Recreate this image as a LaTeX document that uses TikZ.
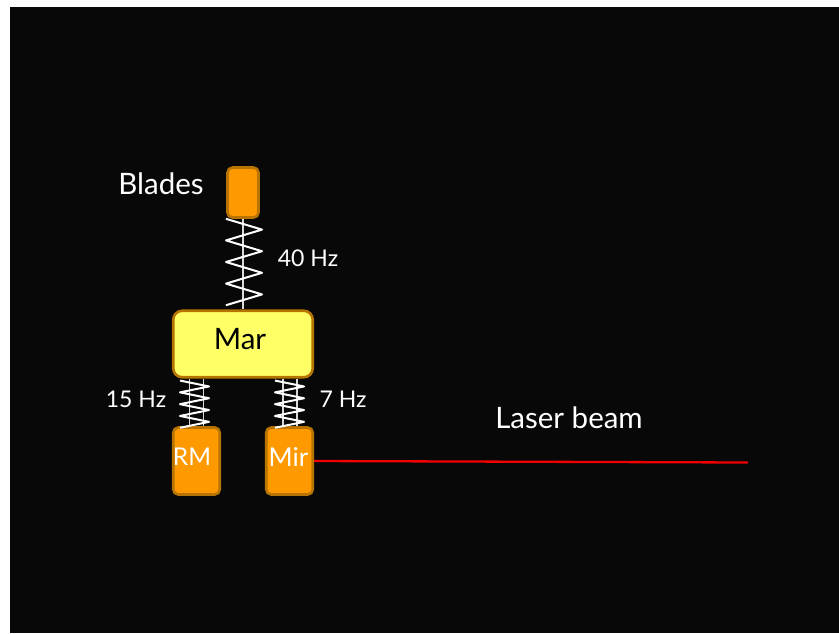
\documentclass[tikz,border=0pt]{standalone}
\usepackage{xcolor}
\usepackage{fontspec}
\setmainfont{Lato}
\usetikzlibrary{calc}
\definecolor{Backdrop}{HTML}{080808}
\definecolor{MassFill}{HTML}{FF9900}
\definecolor{MassEdge}{HTML}{B87400}
\definecolor{MarFill}{HTML}{FFFF66}
\definecolor{BeamRed}{HTML}{F00000}
\begin{document}
\begin{tikzpicture}[x=1pt,y=-1pt,
    mass/.style={rectangle,rounded corners=5pt,draw=MassEdge,fill=MassFill,
      line width=2.6pt,inner sep=0pt},
    wire/.style={color=white!85!black,line width=1.1pt},
    coil/.style={color=white,line width=2pt,line join=round},
    sawtooth/.style 2 args={insert path={
      -- ++(#1,#2) -- ++(-#1,#2) -- ++(#1,#2) -- ++(-#1,#2)
      -- ++(#1,#2) -- ++(-#1,#2) -- ++(#1,#2) -- ++(-#1,#2)}},
    biglabel/.style={font=\fontsize{29.5}{34}\selectfont,text=white,inner sep=0pt},
    hzlabel/.style={font=\fontsize{23}{27}\selectfont,text=white,inner sep=0pt}]
  \useasboundingbox (0,0) rectangle (839,633);
  \fill[Backdrop] (10,7) rectangle (839,633);
  % masses
  \node[mass,minimum width=31pt,minimum height=50pt] (blades) at (243,192.5) {};
  \node[mass,fill=MarFill,rounded corners=9pt,minimum width=139.5pt,minimum height=66.5pt] (mar) at (243,344) {};
  \node[mass,minimum width=46.5pt,minimum height=67pt] (rm) at (196.5,461) {};
  \node[mass,minimum width=46.5pt,minimum height=67pt] (mir) at (289.5,461) {};
  % suspension wires
  \draw[wire] (blades.south) -- (mar.north);
  \draw[wire] ([xshift=-7pt]rm.north |- mar.south) -- ([xshift=-7pt]rm.north);
  \draw[wire] ([xshift=7pt]rm.north |- mar.south) -- ([xshift=7pt]rm.north);
  \draw[wire] ([xshift=-6.5pt]mir.north |- mar.south) -- ([xshift=-6.5pt]mir.north);
  \draw[wire] ([xshift=7.5pt]mir.north |- mar.south) -- ([xshift=7.5pt]mir.north);
  % springs
  \draw[coil] ([xshift=-17pt]blades.south) [sawtooth={36}{10.8}];
  \draw[coil] ([xshift=-16.5pt,yshift=-2pt]rm.north |- mar.south) [sawtooth={29}{5.9}];
  \draw[coil] ([xshift=-14.5pt,yshift=-2pt]mir.north |- mar.south) [sawtooth={29}{5.9}];
  % beam
  \coordinate (beamend) at (748,462.5);
  \draw[BeamRed,line width=2.3pt] (mir.east) -- (beamend);
  % labels
  \node[biglabel] (bladestxt) at (161,184) {Blades};
  \node[biglabel,text=black] (martxt) at (240,339) {Mar};
  \node[biglabel,font=\fontsize{24.5}{28}\selectfont] (rmtxt) at (192,457) {RM};
  \node[biglabel,font=\fontsize{26}{30}\selectfont] (mirtxt) at (288.5,457) {Mir};
  \node[biglabel] (beamtxt) at (569,418) {Laser beam};
  \node[hzlabel] (fortyhz) at (308,258) {40 Hz};
  \node[hzlabel] (fifteenhz) at (136,399) {15 Hz};
  \node[hzlabel] (sevenhz) at (343,399) {7 Hz};
\end{tikzpicture}
\end{document}
